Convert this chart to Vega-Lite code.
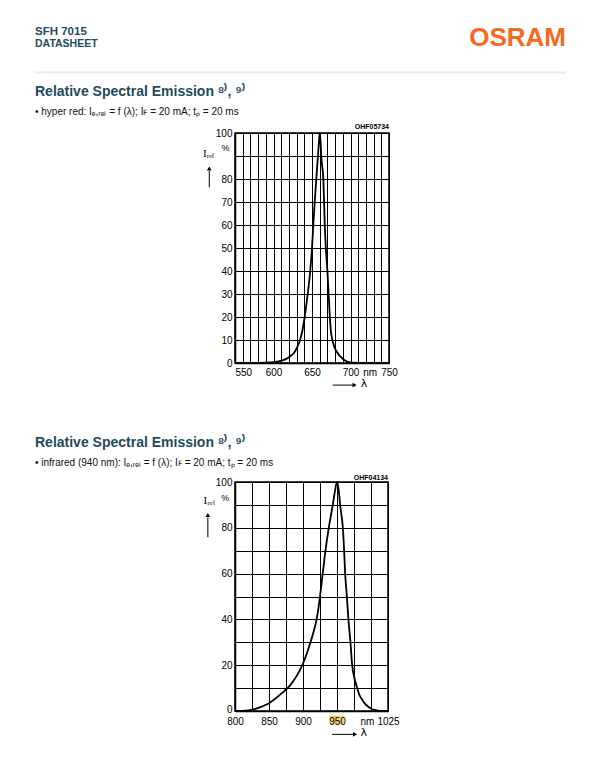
{
  "$schema": "https://vega.github.io/schema/vega-lite/v6.json",
  "background": "white",
  "padding": {"left": 34, "top": 25, "right": 0, "bottom": 0},
  "config": {
    "font": "Liberation Sans",
    "view": {"stroke": "black", "strokeWidth": 1.5}
  },
  "spacing": 10,
  "vconcat": [
    {
      "width": 329,
      "height": 46,
      "view": {"stroke": null},
      "data": {"values": [{}]},
      "layer": [
        {
          "mark": {"type": "rule", "color": "#e6ebee", "strokeWidth": 2},
          "encoding": {
            "x": {"datum": 0, "type": "quantitative", "scale": {"domain": [0, 1], "range": [-200, 331]}, "axis": null},
            "x2": {"datum": 1},
            "y": {"datum": -1.5, "type": "quantitative", "scale": {"domain": [0, 46]}, "axis": null}
          }
        },
        {
          "mark": {"type": "text", "align": "left", "baseline": "alphabetic", "fontSize": 11.5, "fontWeight": "bold", "font": "Liberation Sans", "color": "#1f4b5c"},
          "encoding": {
            "x": {"datum": 0, "type": "quantitative", "scale": {"domain": [0, 1], "range": [-200, 331]}, "axis": null},
            "y": {"datum": 36, "type": "quantitative", "scale": {"domain": [0, 46]}, "axis": null},
            "text": {"value": "SFH 7015"}
          }
        },
        {
          "mark": {"type": "text", "align": "left", "baseline": "alphabetic", "fontSize": 10.5, "fontWeight": "bold", "font": "Liberation Sans", "color": "#1f4b5c"},
          "encoding": {
            "x": {"datum": 0, "type": "quantitative", "scale": {"domain": [0, 1], "range": [-200, 331]}, "axis": null},
            "y": {"datum": 24.5, "type": "quantitative", "scale": {"domain": [0, 46]}, "axis": null},
            "text": {"value": "DATASHEET"}
          }
        },
        {
          "mark": {"type": "text", "align": "right", "baseline": "alphabetic", "fontSize": 26, "fontWeight": "bold", "font": "Liberation Sans", "color": "#f26a24"},
          "encoding": {
            "x": {"datum": 1, "type": "quantitative", "scale": {"domain": [0, 1], "range": [-200, 331]}, "axis": null},
            "y": {"datum": 25, "type": "quantitative", "scale": {"domain": [0, 46]}, "axis": null},
            "text": {"value": "OSRAM"}
          }
        }
      ]
    },
    {
      "spacing": 43,
      "vconcat": [
        {
          "width": 154,
          "height": 230,
          "title": {"text": "Relative Spectral Emission ⁸⁾, ⁹⁾", "subtitle": "• hyper red: Iₑ,ᵣₑₗ = f (λ); Iꜰ = 20 mA; tₚ = 20 ms", "anchor": "start", "frame": "group", "dx": -200, "offset": 6, "fontSize": 14, "fontWeight": "bold", "color": "#1f4b5c", "font": "Liberation Sans", "subtitleFontSize": 10, "subtitleColor": "#111111", "subtitleFont": "Liberation Sans", "subtitlePadding": 8},
          "resolve": {"axis": {"x": "independent", "y": "independent"}},
          "layer": [
            {
              "data": {"values": [
                {"wavelength": 550, "intensity": 0}, {"wavelength": 570, "intensity": 0}, {"wavelength": 580, "intensity": 0.05}, {"wavelength": 590, "intensity": 0.15},
                {"wavelength": 600, "intensity": 0.4}, {"wavelength": 608, "intensity": 0.8}, {"wavelength": 616, "intensity": 1.7}, {"wavelength": 622, "intensity": 3.0},
                {"wavelength": 627, "intensity": 4.6}, {"wavelength": 631, "intensity": 7}, {"wavelength": 634.5, "intensity": 10}, {"wavelength": 637.5, "intensity": 14},
                {"wavelength": 640.5, "intensity": 20}, {"wavelength": 642.5, "intensity": 25}, {"wavelength": 644.4, "intensity": 30}, {"wavelength": 647.7, "intensity": 40},
                {"wavelength": 650, "intensity": 50}, {"wavelength": 651.7, "intensity": 60}, {"wavelength": 653.5, "intensity": 70}, {"wavelength": 655.6, "intensity": 80},
                {"wavelength": 657.7, "intensity": 90}, {"wavelength": 659, "intensity": 96}, {"wavelength": 660, "intensity": 100}, {"wavelength": 661, "intensity": 97},
                {"wavelength": 662, "intensity": 90}, {"wavelength": 664.7, "intensity": 80}, {"wavelength": 665.7, "intensity": 70}, {"wavelength": 666.6, "intensity": 60},
                {"wavelength": 668, "intensity": 50}, {"wavelength": 670, "intensity": 40}, {"wavelength": 671.6, "intensity": 30}, {"wavelength": 673.2, "intensity": 20},
                {"wavelength": 674.5, "intensity": 14}, {"wavelength": 676.5, "intensity": 10}, {"wavelength": 679, "intensity": 7}, {"wavelength": 683, "intensity": 4.5},
                {"wavelength": 688, "intensity": 2.4}, {"wavelength": 693, "intensity": 1.1}, {"wavelength": 698, "intensity": 0.4}, {"wavelength": 705, "intensity": 0.1},
                {"wavelength": 715, "intensity": 0}, {"wavelength": 750, "intensity": 0}
              ]},
              "mark": {"type": "line", "color": "black", "strokeWidth": 1.8, "interpolate": "monotone"},
              "encoding": {
                "x": {"field": "wavelength", "type": "quantitative", "scale": {"domain": [550, 750], "nice": false, "zero": false},
                  "axis": {"values": [550,560,570,580,590,600,610,620,630,640,650,660,670,680,690,700,710,720,725,730,740,750], "grid": true, "gridWidth": 1, "gridColor": "black", "format": "d",
                    "gridOpacity": {"condition": {"test": "datum.value == 725", "value": 0}, "value": 1},
                    "ticks": false, "domainColor": "black", "domainWidth": 1.5, "labelColor": "black", "labelFontSize": 10, "labelFont": "Liberation Sans", "labelOverlap": false, "labelFlush": false, "labelBound": false,
                    "labelExpr": "datum.value == 725 ? 'nm' : (datum.value % 50 == 0 ? datum.label : '')",
                    "labelAlign": {"condition": {"test": "datum.value == 550", "value": "left"}, "value": "center"},
                    "labelPadding": 4, "title": null}},
                "y": {"field": "intensity", "type": "quantitative", "scale": {"domain": [0, 100], "nice": false},
                  "axis": {"values": [0,10,20,30,40,50,60,70,80,90,100], "grid": true, "gridWidth": 1.2, "gridColor": "black", "ticks": false, "domainColor": "black", "domainWidth": 1.5,
                    "labelColor": "black", "labelFontSize": 10, "labelFont": "Liberation Sans", "labelOverlap": false, "labelFlush": false, "labelBound": false,
                    "labelExpr": "datum.value == 90 ? '' : datum.label", "labelPadding": 3, "title": null}}
              }
            },
            {
              "data": {"values": [{}]},
              "mark": {"type": "text", "align": "left", "baseline": "alphabetic", "font": "Liberation Serif", "fontSize": 11, "color": "black"},
              "encoding": {
                "x": {"datum": 508.4, "type": "quantitative", "scale": {"domain": [550, 750], "nice": false, "zero": false}, "axis": null},
                "y": {"datum": 89.6, "type": "quantitative", "scale": {"domain": [0, 100], "nice": false}, "axis": null},
                "text": {"value": "Iᵣₑₗ"}
              }
            },
            {
              "data": {"values": [{}]},
              "mark": {"type": "text", "align": "center", "baseline": "alphabetic", "fontSize": 9, "color": "black"},
              "encoding": {
                "x": {"datum": 537.5, "type": "quantitative", "scale": {"domain": [550, 750], "nice": false, "zero": false}, "axis": null},
                "y": {"datum": 92.3, "type": "quantitative", "scale": {"domain": [0, 100], "nice": false}, "axis": null},
                "text": {"value": "%"}
              }
            },
            {
              "data": {"values": [{}]},
              "mark": {"type": "rule", "color": "black", "strokeWidth": 1},
              "encoding": {
                "x": {"datum": 516.6, "type": "quantitative", "scale": {"domain": [550, 750], "nice": false, "zero": false}, "axis": null},
                "y": {"datum": 76.4, "type": "quantitative", "scale": {"domain": [0, 100], "nice": false}, "axis": null},
                "y2": {"datum": 83.5}
              }
            },
            {
              "data": {"values": [{}]},
              "mark": {"type": "point", "shape": "triangle-up", "filled": true, "size": 22, "color": "black", "opacity": 1},
              "encoding": {
                "x": {"datum": 516.6, "type": "quantitative", "scale": {"domain": [550, 750], "nice": false, "zero": false}, "axis": null},
                "y": {"datum": 84.6, "type": "quantitative", "scale": {"domain": [0, 100], "nice": false}, "axis": null}
              }
            },
            {
              "data": {"values": [{}]},
              "mark": {"type": "text", "align": "right", "baseline": "alphabetic", "fontSize": 7, "fontWeight": "bold", "color": "black"},
              "encoding": {
                "x": {"datum": 750, "type": "quantitative", "scale": {"domain": [550, 750], "nice": false, "zero": false}, "axis": null},
                "y": {"datum": 101.6, "type": "quantitative", "scale": {"domain": [0, 100], "nice": false}, "axis": null},
                "text": {"value": "OHF05734"}
              }
            },
            {
              "data": {"values": [{}]},
              "mark": {"type": "rule", "color": "black", "strokeWidth": 1},
              "encoding": {
                "x": {"datum": 676.9, "type": "quantitative", "scale": {"domain": [550, 750], "nice": false, "zero": false}, "axis": null},
                "x2": {"datum": 703},
                "y": {"datum": -9.6, "type": "quantitative", "scale": {"domain": [0, 100], "nice": false}, "axis": null}
              }
            },
            {
              "data": {"values": [{}]},
              "mark": {"type": "point", "shape": "triangle-right", "filled": true, "size": 22, "color": "black", "opacity": 1},
              "encoding": {
                "x": {"datum": 705.3, "type": "quantitative", "scale": {"domain": [550, 750], "nice": false, "zero": false}, "axis": null},
                "y": {"datum": -9.6, "type": "quantitative", "scale": {"domain": [0, 100], "nice": false}, "axis": null}
              }
            },
            {
              "data": {"values": [{}]},
              "mark": {"type": "text", "align": "center", "baseline": "middle", "fontSize": 11, "font": "DejaVu Sans", "color": "black"},
              "encoding": {
                "x": {"datum": 717.5, "type": "quantitative", "scale": {"domain": [550, 750], "nice": false, "zero": false}, "axis": null},
                "y": {"datum": -9.3, "type": "quantitative", "scale": {"domain": [0, 100], "nice": false}, "axis": null},
                "text": {"value": "λ"}
              }
            }
          ]
        },
        {
          "width": 153,
          "height": 229,
          "title": {"text": "Relative Spectral Emission ⁸⁾, ⁹⁾", "subtitle": "• infrared (940 nm): Iₑ,ᵣₑₗ = f (λ); Iꜰ = 20 mA; tₚ = 20 ms", "anchor": "start", "frame": "group", "dx": -200, "offset": 6, "fontSize": 14, "fontWeight": "bold", "color": "#1f4b5c", "font": "Liberation Sans", "subtitleFontSize": 10, "subtitleColor": "#111111", "subtitleFont": "Liberation Sans", "subtitlePadding": 8},
          "resolve": {"axis": {"x": "independent", "y": "independent"}},
          "layer": [
            {
              "data": {"values": [
                {"wavelength": 800, "intensity": 0}, {"wavelength": 810, "intensity": 0.05}, {"wavelength": 820, "intensity": 0.3}, {"wavelength": 830, "intensity": 0.9},
                {"wavelength": 840, "intensity": 2.0}, {"wavelength": 850, "intensity": 3.4}, {"wavelength": 857.6, "intensity": 5.0}, {"wavelength": 865, "intensity": 6.8},
                {"wavelength": 872, "intensity": 8.6}, {"wavelength": 877.4, "intensity": 10}, {"wavelength": 885, "intensity": 12.8}, {"wavelength": 892, "intensity": 16},
                {"wavelength": 899, "intensity": 20}, {"wavelength": 905.5, "intensity": 25}, {"wavelength": 911, "intensity": 30}, {"wavelength": 916, "intensity": 35},
                {"wavelength": 920, "intensity": 40}, {"wavelength": 922.8, "intensity": 45}, {"wavelength": 925, "intensity": 50}, {"wavelength": 929, "intensity": 60},
                {"wavelength": 933, "intensity": 70}, {"wavelength": 937.9, "intensity": 80}, {"wavelength": 943.8, "intensity": 90}, {"wavelength": 947, "intensity": 96},
                {"wavelength": 950, "intensity": 100}, {"wavelength": 952.5, "intensity": 96.5}, {"wavelength": 954.6, "intensity": 90}, {"wavelength": 958.6, "intensity": 80},
                {"wavelength": 960.5, "intensity": 70}, {"wavelength": 962, "intensity": 60}, {"wavelength": 964.5, "intensity": 50}, {"wavelength": 966.8, "intensity": 40},
                {"wavelength": 969.8, "intensity": 30}, {"wavelength": 972.3, "intensity": 20}, {"wavelength": 975.5, "intensity": 14.5}, {"wavelength": 979.7, "intensity": 10},
                {"wavelength": 983, "intensity": 7}, {"wavelength": 987, "intensity": 5}, {"wavelength": 991, "intensity": 3.2}, {"wavelength": 995.5, "intensity": 2},
                {"wavelength": 1000, "intensity": 1.1}, {"wavelength": 1005, "intensity": 0.5}, {"wavelength": 1010, "intensity": 0.2}, {"wavelength": 1015, "intensity": 0.05},
                {"wavelength": 1025, "intensity": 0}
              ]},
              "mark": {"type": "line", "color": "black", "strokeWidth": 1.8, "interpolate": "monotone"},
              "encoding": {
                "x": {"field": "wavelength", "type": "quantitative", "scale": {"domain": [800, 1025], "nice": false, "zero": false},
                  "axis": {"values": [800,825,850,875,900,925,950,975,1000,1025], "grid": true, "gridWidth": 1, "gridColor": "black", "zindex": 1, "format": "d",
                    "ticks": false, "domainColor": "black", "domainWidth": 1.5, "labelColor": "black", "labelFontSize": 10, "labelFont": "Liberation Sans", "labelOverlap": false, "labelFlush": false, "labelBound": false,
                    "labelExpr": "datum.value == 1000 ? 'nm' : ((datum.value % 50 == 0 || datum.value == 1025) ? datum.label : '')",
                    "labelOffset": {"condition": {"test": "datum.value == 1000", "value": -4}, "value": 0},
                    "labelPadding": 5, "title": null}},
                "y": {"field": "intensity", "type": "quantitative", "scale": {"domain": [0, 100], "nice": false},
                  "axis": {"values": [0,10,20,30,40,50,60,70,80,90,100], "grid": true, "gridWidth": 1.2, "gridColor": "black", "ticks": false, "domainColor": "black", "domainWidth": 1.5,
                    "labelColor": "black", "labelFontSize": 10, "labelFont": "Liberation Sans", "labelOverlap": false, "labelFlush": false, "labelBound": false,
                    "labelOffset": {"condition": {"test": "datum.value == 0", "value": -2}, "value": 0},
                    "labelExpr": "datum.value % 20 == 0 ? datum.label : ''", "labelPadding": 3, "title": null}}
              }
            },
            {
              "data": {"values": [{}]},
              "mark": {"type": "rect", "color": "#f8d56e"},
              "encoding": {
                "x": {"datum": 938.8, "type": "quantitative", "scale": {"domain": [800, 1025], "nice": false, "zero": false}, "axis": null},
                "x2": {"datum": 960.9},
                "y": {"datum": -2.0, "type": "quantitative", "scale": {"domain": [0, 100], "nice": false}, "axis": null},
                "y2": {"datum": -5.6}
              }
            },
            {
              "data": {"values": [{}]},
              "mark": {"type": "text", "align": "left", "baseline": "alphabetic", "font": "Liberation Serif", "fontSize": 11, "color": "black"},
              "encoding": {
                "x": {"datum": 753.8, "type": "quantitative", "scale": {"domain": [800, 1025], "nice": false, "zero": false}, "axis": null},
                "y": {"datum": 90.5, "type": "quantitative", "scale": {"domain": [0, 100], "nice": false}, "axis": null},
                "text": {"value": "Iᵣₑₗ"}
              }
            },
            {
              "data": {"values": [{}]},
              "mark": {"type": "text", "align": "center", "baseline": "alphabetic", "fontSize": 9, "color": "black"},
              "encoding": {
                "x": {"datum": 785.5, "type": "quantitative", "scale": {"domain": [800, 1025], "nice": false, "zero": false}, "axis": null},
                "y": {"datum": 91.8, "type": "quantitative", "scale": {"domain": [0, 100], "nice": false}, "axis": null},
                "text": {"value": "%"}
              }
            },
            {
              "data": {"values": [{}]},
              "mark": {"type": "rule", "color": "black", "strokeWidth": 1},
              "encoding": {
                "x": {"datum": 760.1, "type": "quantitative", "scale": {"domain": [800, 1025], "nice": false, "zero": false}, "axis": null},
                "y": {"datum": 75.9, "type": "quantitative", "scale": {"domain": [0, 100], "nice": false}, "axis": null},
                "y2": {"datum": 84.6}
              }
            },
            {
              "data": {"values": [{}]},
              "mark": {"type": "point", "shape": "triangle-up", "filled": true, "size": 22, "color": "black", "opacity": 1},
              "encoding": {
                "x": {"datum": 760.1, "type": "quantitative", "scale": {"domain": [800, 1025], "nice": false, "zero": false}, "axis": null},
                "y": {"datum": 85.6, "type": "quantitative", "scale": {"domain": [0, 100], "nice": false}, "axis": null}
              }
            },
            {
              "data": {"values": [{}]},
              "mark": {"type": "text", "align": "right", "baseline": "alphabetic", "fontSize": 7, "fontWeight": "bold", "color": "black"},
              "encoding": {
                "x": {"datum": 1025, "type": "quantitative", "scale": {"domain": [800, 1025], "nice": false, "zero": false}, "axis": null},
                "y": {"datum": 101, "type": "quantitative", "scale": {"domain": [0, 100], "nice": false}, "axis": null},
                "text": {"value": "OHF04134"}
              }
            },
            {
              "data": {"values": [{}]},
              "mark": {"type": "rule", "color": "black", "strokeWidth": 1},
              "encoding": {
                "x": {"datum": 942.8, "type": "quantitative", "scale": {"domain": [800, 1025], "nice": false, "zero": false}, "axis": null},
                "x2": {"datum": 974},
                "y": {"datum": -10.2, "type": "quantitative", "scale": {"domain": [0, 100], "nice": false}, "axis": null}
              }
            },
            {
              "data": {"values": [{}]},
              "mark": {"type": "point", "shape": "triangle-right", "filled": true, "size": 22, "color": "black", "opacity": 1},
              "encoding": {
                "x": {"datum": 976.5, "type": "quantitative", "scale": {"domain": [800, 1025], "nice": false, "zero": false}, "axis": null},
                "y": {"datum": -10.2, "type": "quantitative", "scale": {"domain": [0, 100], "nice": false}, "axis": null}
              }
            },
            {
              "data": {"values": [{}]},
              "mark": {"type": "text", "align": "center", "baseline": "middle", "fontSize": 11, "font": "DejaVu Sans", "color": "black"},
              "encoding": {
                "x": {"datum": 989.3, "type": "quantitative", "scale": {"domain": [800, 1025], "nice": false, "zero": false}, "axis": null},
                "y": {"datum": -9.8, "type": "quantitative", "scale": {"domain": [0, 100], "nice": false}, "axis": null},
                "text": {"value": "λ"}
              }
            }
          ]
        }
      ]
    }
  ]
}
